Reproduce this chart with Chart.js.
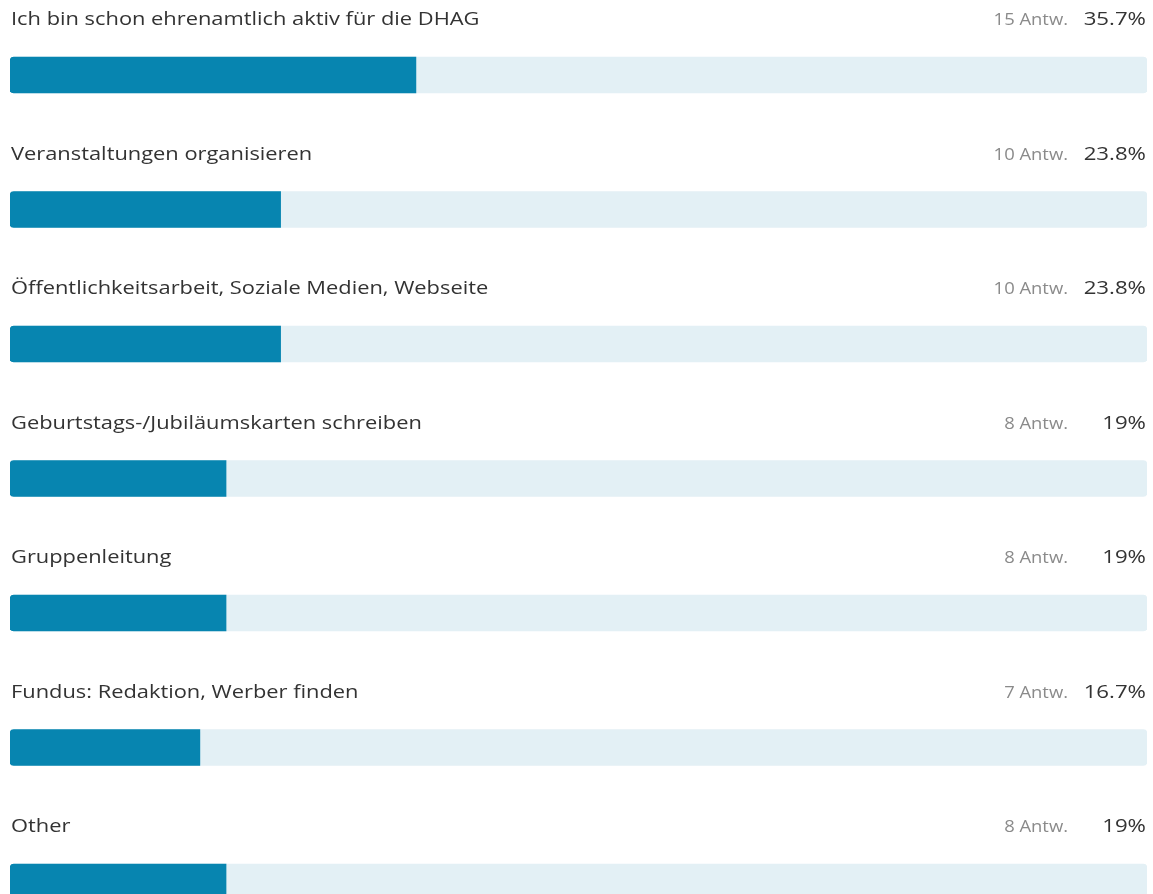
<!DOCTYPE html>
<html>
<head>
<meta charset="utf-8">
<script src="https://cdn.jsdelivr.net/npm/chart.js@4/dist/chart.umd.min.js"></script>
<style>
  html, body { margin: 0; padding: 0; background: #fff; overflow: hidden; }
  #wrap { position: relative; width: 1153px; height: 960px; }
</style>
</head>
<body>
<div id="wrap"><canvas id="c" width="1153" height="960"></canvas></div>
<script>
const categories = [
  "Ich bin schon ehrenamtlich aktiv für die DHAG",
  "Veranstaltungen organisieren",
  "Öffentlichkeitsarbeit, Soziale Medien, Webseite",
  "Geburtstags-/Jubiläumskarten schreiben",
  "Gruppenleitung",
  "Fundus: Redaktion, Werber finden",
  "Other"
];
const answerCounts = [15, 10, 10, 8, 8, 7, 8];
const percentages = [35.7, 23.8, 23.8, 19, 19, 16.7, 19];
const trackValues = [100, 100, 100, 100, 100, 100, 100];
const answerSuffix = "Antw.";

function stretchedText(ctx, text, x, y, align, sx) {
  ctx.save();
  ctx.translate(x, y);
  ctx.scale(sx, 1);
  ctx.textAlign = align;
  ctx.fillText(text, 0, 0);
  ctx.restore();
}

const labelPlugin = {
  id: 'rowLabels',
  afterDatasetsDraw(chart) {
    const ctx = chart.ctx;
    const meta = chart.getDatasetMeta(0);
    ctx.save();
    meta.data.forEach((bar, i) => {
      const y = bar.y - 50;
      ctx.textBaseline = 'alphabetic';
      ctx.font = '19px "Open Sans", "Noto Sans", sans-serif';
      ctx.fillStyle = '#333333';
      stretchedText(ctx, categories[i], 11, y, 'left', 1.15);
      stretchedText(ctx, percentages[i] + '%', 1146, y, 'right', 1.17);
      ctx.font = '16px "Open Sans", "Noto Sans", sans-serif';
      ctx.fillStyle = '#8a8a8a';
      stretchedText(ctx, answerCounts[i] + ' ' + answerSuffix, 1068, y, 'right', 1.15);
    });
    ctx.restore();
  }
};

new Chart(document.getElementById('c'), {
  type: 'bar',
  data: {
    labels: categories,
    datasets: [
      {
        data: percentages,
        backgroundColor: '#0785B0',
        barThickness: 36,
        grouped: false,
        borderRadius: 4,
        borderSkipped: 'right',
        order: 0
      },
      {
        data: trackValues,
        backgroundColor: '#E3F0F5',
        barThickness: 36,
        grouped: false,
        borderRadius: 4,
        borderSkipped: false,
        order: 1
      }
    ]
  },
  options: {
    indexAxis: 'y',
    responsive: false,
    animation: false,
    layout: { padding: { left: 10, right: 6, top: 7.75, bottom: 10.75 } },
    plugins: { legend: { display: false }, tooltip: { enabled: false } },
    scales: {
      x: { display: false, min: 0, max: 100 },
      y: { display: false }
    }
  },
  plugins: [labelPlugin]
});
</script>
</body>
</html>
